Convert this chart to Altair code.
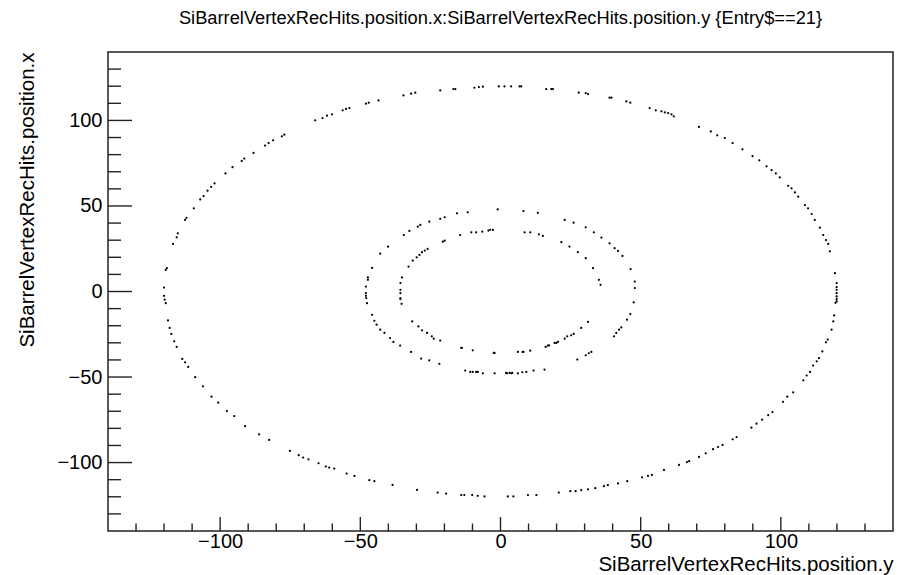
import altair as alt
import pandas as pd

# Horizontal axis = SiBarrelVertexRecHits.position.y, vertical = position.x
outer_h = [-120.0, -120.0, -119.4, -119.0, -116.8, -115.5, -115.1, -112.5, -112.0, -109.4, -107.1, -105.9, -104.5, -103.2, -102.0,
           -98.1, -95.6, -92.3, -91.4, -88.1, -84.0, -82.7, -81.1, -78.0, -77.1, -66.1, -63.5, -61.9, -60.1, -56.3, -55.1,
           -53.9, -48.0, -47.0, -43.5, -34.6, -31.9, -30.4, -21.5, -16.8, -16.1, -9.3, -7.7, -6.3, -0.6,
           1.4, 3.8, 6.8, 7.4, 16.3, 18.1, 18.7, 27.9, 30.4, 31.2, 38.9, 39.6, 44.9, 46.3, 53.2, 55.4, 57.4, 58.6, 59.8,
           61.0, 61.8, 70.8, 75.0, 77.3, 80.0, 82.8, 86.3, 89.9, 92.3, 94.9, 96.7, 98.2, 99.6, 102.6, 103.8, 105.0, 106.2,
           108.6, 109.7, 111.0, 112.1, 113.9, 115.1, 116.1, 116.9, 117.5, 119.3, 119.9, 119.9, 119.9, 119.9, 119.9, 119.9,
           119.9, 119.5, 119.0, 118.7, 118.1, 116.7, 116.1, 114.8, 113.6, 112.8, 111.5, 110.4, 109.2, 108.0, 104.4, 102.3,
           100.8, 97.0, 95.5, 93.3, 91.3, 89.5, 84.2, 82.8, 79.2, 77.6, 75.8, 73.2, 70.8, 67.3, 66.5, 63.7, 58.3, 54.0,
           52.6, 50.5, 45.2, 41.9, 38.3, 36.9, 33.8, 31.2, 28.8, 26.8, 24.9, 20.8, 12.8, 9.8, 4.6, 2.6,
           -5.7, -8.1, -10.1, -12.9, -14.0, -19.4, -22.4, -29.8, -38.5, -45.0, -46.8, -52.1, -54.9, -59.3, -61.1, -62.3,
           -64.9, -68.5, -70.4, -72.0, -75.1, -82.5, -86.1, -91.1, -95.0, -97.6, -100.7, -103.1, -106.1, -108.9, -111.4,
           -112.5, -113.5, -115.5, -116.4, -117.4, -118.0, -118.6, -119.4, -119.8]
outer_v = [2.3, -2.5, 12.6, 13.6, 27.8, 31.7, 34.0, 41.8, 43.1, 48.6, 53.8, 55.8, 58.9, 61.2, 63.2,
           69.0, 72.7, 76.3, 77.7, 81.0, 85.3, 86.8, 88.4, 90.7, 91.7, 100.1, 101.4, 102.8, 103.6, 105.9, 106.7,
           107.2, 109.8, 110.4, 111.7, 114.6, 115.6, 116.2, 117.5, 118.3, 118.3, 119.1, 119.5, 119.7, 119.9,
           119.9, 119.9, 119.9, 119.9, 118.3, 118.3, 118.3, 116.2, 116.0, 115.4, 113.3, 113.3, 111.1, 110.4, 107.2, 105.9,
           105.3, 104.7, 104.3, 103.6, 102.4, 96.2, 93.6, 91.3, 89.7, 86.8, 83.1, 79.1, 76.7, 73.2, 70.9, 69.0, 66.7,
           61.8, 60.3, 57.9, 55.4, 50.5, 48.6, 45.3, 41.8, 37.3, 33.0, 30.1, 27.8, 23.5, 10.7, 4.9, 2.5, 1.0, -1.0, -2.9,
           -4.5, -5.8, -6.6, -14.0, -17.5, -22.3, -28.1, -29.7, -35.0, -39.0, -40.8, -43.3, -47.0, -49.1, -51.9, -58.9,
           -61.5, -64.5, -70.5, -72.3, -74.9, -77.3, -79.6, -85.1, -86.4, -89.7, -90.9, -92.2, -94.6, -96.7, -99.2, -99.7,
           -101.4, -104.3, -107.2, -107.8, -108.6, -110.9, -112.2, -113.2, -113.8, -115.0, -115.6, -116.1, -116.7, -116.7,
           -117.5, -119.0, -119.0, -119.8, -119.8,
           -119.8, -119.4, -119.0, -119.0, -119.0, -118.1, -117.5, -116.0, -113.1, -110.9, -110.3, -107.8, -106.4, -103.5,
           -102.9, -102.3, -100.4, -98.1, -97.1, -95.7, -93.2, -86.8, -83.5, -78.7, -72.8, -69.9, -65.0, -61.5, -55.4,
           -50.1, -44.1, -41.4, -39.4, -32.4, -29.1, -24.8, -21.3, -16.9, -6.8, -4.8]

middle_h = [-1.0, -11.7, -15.5, -19.9, -21.5, -25.4, -28.6, -29.5, -32.5, -34.5, -40.1, -42.9, -45.8, -47.3, -47.3, -48.0,
            -48.0, -48.0, 8.2, 13.3, 22.9, 26.1, 30.4, 33.3, 36.0, 38.9, 40.7, 41.9, 43.5, 46.4, 47.9, 47.9,
            47.5, 46.3, 45.1, 43.1, 42.3, 41.3, 40.5, 32.4, 31.5, 30.4, 27.4, 15.7, 11.8, 9.2, 7.8, 6.2, 3.8, 2.3,
            4.2, 3.2, 2.0, -2.1, -6.3, -8.1, -8.7, -9.9, -10.8, -12.6, -21.8, -25.4, -28.3, -31.9, -35.8, -38.2, -39.4,
            -41.4, -42.9, -44.2, -45.0, -45.8, -47.6, -47.9]
middle_v = [48.0, 46.3, 45.7, 43.4, 42.5, 40.8, 38.9, 37.9, 35.4, 33.0, 26.2, 22.1, 13.8, 8.2, 6.8, 2.9,
            -1.0, -2.5, 47.0, 46.0, 41.8, 40.2, 37.5, 34.6, 31.5, 28.2, 25.3, 23.7, 20.8, 13.1, 5.8, 2.0,
            -6.4, -13.2, -16.5, -21.0, -22.3, -24.2, -26.2, -35.3, -36.1, -37.3, -39.8, -45.6, -46.2, -47.0, -47.2,
            -47.8, -47.8, -47.8, -47.6, -47.6, -47.6, -47.8, -47.8, -47.0, -47.0, -47.0, -47.0, -46.2, -42.3, -40.2,
            -39.2, -35.3, -31.6, -29.5, -27.2, -24.2, -22.3, -19.4, -17.1, -13.6, -6.8, -3.8]

inner_h = [-2.7, -4.3, -6.5, -8.7, -10.4, -14.4, -19.9, -20.6, -26.0, -27.0, -28.0, -28.9, -29.9, -31.3, -32.8, -35.1,
           -35.7, -35.7, -35.7, -35.7, -3.7, 8.6, 10.6, 13.7, 15.1, 21.7, 24.6, 27.6, 30.4, 33.0, 35.1, 35.7,
           31.2, 28.8, 26.1, 25.2, 22.9, 20.5, 19.3, 16.9, 16.1, 10.6, 8.2, 6.2, 23.8, 19.9, 17.3, 7.9,
           -2.1, -2.4, -9.9, -13.8, -14.0, -21.5, -23.8, -24.5, -26.2, -28.0, -29.3, -31.5, -35.3, -35.7]
inner_v = [36.0, 35.6, 35.0, 34.6, 34.6, 33.0, 29.7, 29.1, 24.9, 23.9, 23.0, 21.4, 20.0, 18.1, 14.6, 8.2,
           4.9, 1.0, -1.0, -3.9, 36.1, 34.6, 34.6, 33.4, 32.5, 28.8, 26.3, 23.0, 19.5, 13.6, 6.8, 3.9,
           -17.8, -21.3, -24.8, -25.6, -27.6, -29.5, -30.1, -31.6, -32.4, -34.6, -35.3, -35.3, -26.2, -30.1, -31.5, -35.3,
           -35.9, -35.9, -34.4, -33.0, -33.0, -28.7, -27.6, -26.2, -24.2, -22.7, -20.4, -17.5, -7.2, -4.4]

x_major = [-100, -50, 0, 50, 100]
x_minor = [-130, -120, -110, -90, -80, -70, -60, -40, -30, -20, -10, 10, 20, 30, 40, 60, 70, 80, 90, 110, 120, 130]
y_major = [-100, -50, 0, 50, 100]
y_minor = [-130, -120, -110, -90, -80, -70, -60, -40, -30, -20, -10, 10, 20, 30, 40, 60, 70, 80, 90, 110, 120, 130]

W, H = 785, 479
FONT = "Liberation Sans"

hits = pd.DataFrame({
    "h": outer_h + middle_h + inner_h,
    "v": outer_v + middle_v + inner_v,
})

xs = alt.Scale(domain=[-140, 140], nice=False, zero=False)
ys = alt.Scale(domain=[-140, 140], nice=False, zero=False)

xaxis = alt.Axis(title="SiBarrelVertexRecHits.position.y", values=x_major, format="d",
                 ticks=False, tickSize=0, domain=False, grid=False,
                 labelFont=FONT, labelFontSize=20, labelColor="black", labelPadding=16.5,
                 labelBaseline="alphabetic", labelFlush=False,
                 titleFont=FONT, titleFontSize=20.5, titleFontWeight="normal", titleColor="black",
                 titleX=W, titleY=39.5, titleAlign="right", titleBaseline="alphabetic")
yaxis = alt.Axis(title="SiBarrelVertexRecHits.position.x", values=y_major, format="d",
                 ticks=False, tickSize=0, domain=False, grid=False,
                 labelFont=FONT, labelFontSize=20, labelColor="black", labelPadding=6,
                 labelFlush=False,
                 titleFont=FONT, titleFontSize=20.5, titleFontWeight="normal", titleColor="black",
                 titleX=-75, titleY=0, titleAngle=270, titleAlign="right",
                 titleBaseline="alphabetic")

points = alt.Chart(hits).mark_circle(size=5, color="black", opacity=1).encode(
    x=alt.X("h:Q", scale=xs, axis=xaxis),
    y=alt.Y("v:Q", scale=ys, axis=yaxis),
)

tick_color = "#222222"

xmaj = alt.Chart(pd.DataFrame({"t": x_major})).mark_rule(color=tick_color, strokeWidth=1.4).encode(
    x=alt.X("t:Q", scale=xs, axis=xaxis), y=alt.value(H), y2=alt.value(H - 14))
xmin = alt.Chart(pd.DataFrame({"t": x_minor})).mark_rule(color=tick_color, strokeWidth=1.4).encode(
    x=alt.X("t:Q", scale=xs, axis=xaxis), y=alt.value(H), y2=alt.value(H - 7.5))
ymaj = alt.Chart(pd.DataFrame({"t": y_major})).mark_rule(color=tick_color, strokeWidth=1.4).encode(
    y=alt.Y("t:Q", scale=ys, axis=yaxis), x=alt.value(0), x2=alt.value(24))
ymin = alt.Chart(pd.DataFrame({"t": y_minor})).mark_rule(color=tick_color, strokeWidth=1.4).encode(
    y=alt.Y("t:Q", scale=ys, axis=yaxis), x=alt.value(0), x2=alt.value(13))

chart = alt.layer(points, xmaj, xmin, ymaj, ymin).properties(
    width=W, height=H,
    title=alt.Title("SiBarrelVertexRecHits.position.x:SiBarrelVertexRecHits.position.y {Entry$==21}",
                    font=FONT, fontSize=18.3, fontWeight="normal", color="black",
                    anchor="middle", frame="group", offset=24),
    autosize=alt.AutoSizeParams(type="none"),
    padding={"left": 108, "top": 52, "right": 9, "bottom": 44},
    background="white",
).configure_view(stroke="#222222", strokeWidth=1.5)

chart.save("out.html", embed_options={"renderer": "svg", "actions": False})
